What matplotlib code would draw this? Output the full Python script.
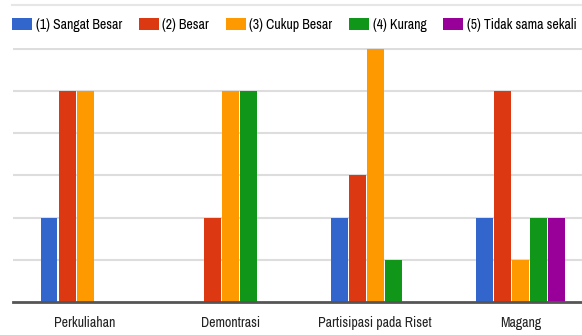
import numpy as np
import matplotlib.pyplot as plt
from matplotlib.patches import Patch

# Data
categories = ['Perkuliahan', 'Demontrasi', 'Partisipasi pada Riset', 'Magang']
series_names = ['(1) Sangat Besar', '(2) Besar', '(3) Cukup Besar', '(4) Kurang', '(5) Tidak sama sekali']
sangat_besar = [2, 0, 2, 2]
besar = [5, 2, 3, 5]
cukup_besar = [5, 5, 6, 1]
kurang = [0, 5, 1, 2]
tidak_sama_sekali = [0, 0, 0, 2]
colors = ['#3366cc', '#dc3912', '#ff9900', '#109618', '#990099']

series = [sangat_besar, besar, cukup_besar, kurang, tidak_sama_sekali]

plt.rcParams['font.family'] = ['Archivo Narrow', 'Roboto Condensed', 'DejaVu Sans']

fig = plt.figure(figsize=(5.82, 3.35), dpi=100)
ax = fig.add_axes([12.5 / 582, 33 / 335, 570 / 582, 254 / 335])

x = np.arange(len(categories))
slot = 18 / 145
for i, vals in enumerate(series):
    ax.bar(x + (i - 2) * slot, vals, width=slot * 0.94, color=colors[i], zorder=3)

ax.set_xlim(-0.5, 3.428)
ax.set_ylim(0, 6.02)
ax.set_yticks(range(1, 7))
ax.set_yticklabels([])
ax.tick_params(axis='y', length=0)
ax.tick_params(axis='x', length=0, pad=10, labelsize=10, colors='#222222')
ax.set_xticks(x)
ax.set_xticklabels(categories)
ax.grid(axis='y', color='#dddddd', linewidth=1.5, zorder=0)
for s in ['top', 'right', 'left']:
    ax.spines[s].set_visible(False)
ax.spines['bottom'].set_color('#555555')
ax.spines['bottom'].set_linewidth(2)
ax.spines['bottom'].set_zorder(4)

# thin line at the very top above the legend
fig.add_artist(plt.Line2D([12 / 582, 1], [1 - 5 / 335, 1 - 5 / 335], color='#e6e6e6', linewidth=1.5))

handles = [Patch(facecolor=c) for c in colors]
fig.legend(handles, series_names, loc='center left', bbox_to_anchor=(12 / 582, 1 - 25 / 335),
           ncol=5, frameon=False, fontsize=10, handlelength=1.45, handleheight=1.0,
           handletextpad=0.25, columnspacing=1.2, borderaxespad=0, borderpad=0)

fig.savefig('out.png', dpi=100)
